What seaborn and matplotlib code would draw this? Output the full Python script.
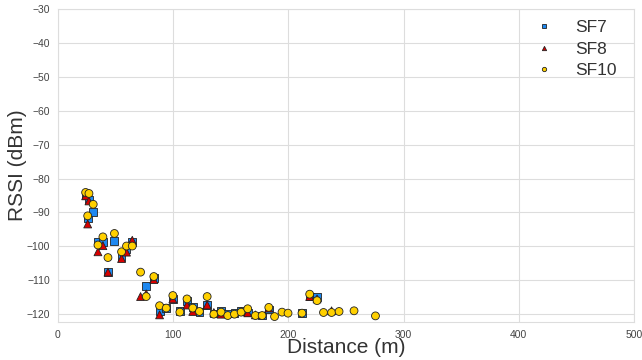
import numpy as np
import pandas as pd
import matplotlib
matplotlib.use('Agg')
import matplotlib.pyplot as plt
import seaborn as sns

nan = np.nan

# measured distance (m) of each test point
distance = [24, 26.9, 25.8, 30.6, 34.7, 39, 43.4, 49, 55.2, 59.5, 64.5, 71.7,
            76.6, 83.2, 88.2, 94, 99.7, 105.8, 112, 117, 122.8, 129.5, 135.3,
            141.6, 147.4, 153.2, 159, 164.7, 171.4, 177.2, 183, 188, 194.5,
            199.7, 211.8, 218.5, 224.9, 230.5, 237.5, 244, 257, 275.6]

# mean RSSI (dBm) per spreading factor
rssi_sf7 = [-85, -86.2, -91.8, -89.8, -98.8, -98.6, -107.6, -98.4, -103.3, -100.9,
            -98.6, nan, -111.6, -109.4, -119, -118.2, -115.5, -119, -116.2, -118,
            -119.4, -117.3, -119.8, -118.9, -119.8, -119.6, -119, -119.5, nan,
            -120.4, -118.6, nan, nan, nan, -119.7, -114.8, -115, nan, nan, nan,
            nan, nan]
rssi_sf8 = [-85.1, -86.6, -93.4, nan, -101.6, -99.8, -107.6, nan, -103.6, -101.7,
            -98.2, -114.8, -114, -109.8, -120.2, nan, -115.5, nan, -117.3, -119.2,
            nan, -117.3, -119.5, -120, nan, nan, -119.2, -119.6, -120.2, nan,
            -118.2, nan, nan, nan, nan, -114.8, -115.5, nan, -119, nan, nan, nan]
rssi_sf10 = [-84.1, -84.4, -91, -87.6, -99.6, -97.2, -103.3, -96.2, -101.6, -99.9,
             -99.9, -107.6, -114.8, -108.9, -117.5, -118.2, -114.5, -119.4, -115.5,
             -118.2, -119.2, -114.8, -120, -119.4, -120.4, -120, -119.4, -118.4,
             -120.4, -120.4, -118, -120.7, -119.4, -119.7, -119.7, -114.1, -116,
             -119.5, -119.5, -119.2, -119, -120.5]

series = {'SF7': rssi_sf7, 'SF8': rssi_sf8, 'SF10': rssi_sf10}
df = pd.concat([pd.DataFrame({'Distance': distance, 'RSSI': v, 'SF': k})
                for k, v in series.items()]).dropna()

sns.set_style('whitegrid')
plt.rcParams['font.family'] = ['Liberation Sans', 'DejaVu Sans']

fig = plt.figure(figsize=(6.42, 3.6), dpi=100)
ax = fig.add_axes([0.0903, 0.1056, 0.8972, 0.8694])

sns.scatterplot(data=df, x='Distance', y='RSSI', hue='SF', style='SF',
                hue_order=['SF7', 'SF8', 'SF10'],
                palette={'SF7': '#1e88f0', 'SF8': '#d80000', 'SF10': '#ffd000'},
                markers={'SF7': 's', 'SF8': '^', 'SF10': 'o'},
                s=32, edgecolor='#222222', linewidth=0.6, zorder=3, ax=ax)

ax.set_xlim(0, 500)
ax.set_ylim(-122.3, -30)
ax.set_xticks(range(0, 501, 100))
ax.set_yticks(range(-120, -29, 10))
ax.tick_params(labelsize=7.5, colors='#444444', pad=2)
ax.set_xlabel('Distance (m)', fontsize=15, color='#333333', labelpad=-1)
ax.set_ylabel('RSSI (dBm)', fontsize=15, color='#333333', labelpad=0)
ax.grid(color='#dddddd', linewidth=0.8)
for s in ax.spines.values():
    s.set_color('#dddddd')

leg = ax.legend(loc='upper right', bbox_to_anchor=(0.99, 1.0), frameon=False,
                fontsize=12.5, markerscale=0.55, handletextpad=0.8,
                labelspacing=0.35, borderaxespad=0.25)
for t in leg.get_texts():
    t.set_color('#333333')

fig.savefig('out.png', dpi=100)
